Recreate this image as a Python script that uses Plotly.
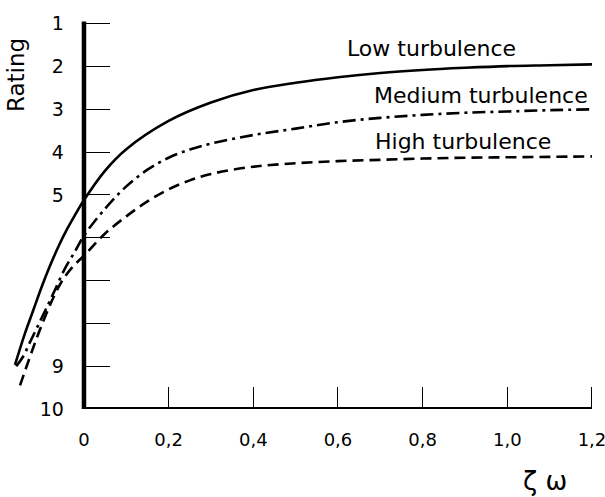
import plotly.graph_objects as go

# ---- data ----
x_low = [-0.163, -0.14, -0.12, -0.10, -0.08, -0.06, -0.04, -0.02, 0.0, 0.05, 0.10, 0.20, 0.30, 0.40, 0.50,
         0.60, 0.70, 0.80, 0.90, 1.00, 1.10, 1.20]
r_low = [8.97, 8.25, 7.70, 7.15, 6.65, 6.20, 5.80, 5.45, 5.12, 4.43, 3.93, 3.27, 2.84, 2.55, 2.38,
         2.25, 2.15, 2.08, 2.03, 1.99, 1.97, 1.95]

x_med = [-0.16, -0.144, -0.128, -0.111, -0.09, -0.07, -0.045, -0.02, 0.0, 0.05, 0.10, 0.15, 0.20, 0.25,
         0.30, 0.40, 0.50, 0.60, 0.70, 0.80, 0.90, 1.00, 1.10, 1.20]
r_med = [9.00, 8.78, 8.45, 8.10, 7.67, 7.25, 6.72, 6.30, 5.95, 5.32, 4.80, 4.41, 4.13, 3.94,
         3.80, 3.60, 3.45, 3.30, 3.20, 3.13, 3.08, 3.05, 3.02, 3.00]

x_high = [-0.151, -0.13, -0.11, -0.09, -0.07, -0.05, -0.025, 0.0, 0.05, 0.10, 0.15, 0.20, 0.25, 0.30,
          0.40, 0.50, 0.60, 0.70, 0.80, 0.90, 1.00, 1.10, 1.20]
r_high = [9.45, 8.85, 8.30, 7.80, 7.35, 6.98, 6.66, 6.42, 5.90, 5.50, 5.15, 4.87, 4.66, 4.51,
          4.34, 4.26, 4.21, 4.18, 4.15, 4.13, 4.12, 4.11, 4.10]

x_ticks = [0.0, 0.2, 0.4, 0.6, 0.8, 1.0, 1.2]
x_tick_text = ["0", "0,2", "0,4", "0,6", "0,8", "1,0", "1,2"]
y_ticks = [1, 2, 3, 4, 5, 6, 7, 8, 9, 10]
y_tick_text = ["1", "2", "3", "4", "5", "", "", "", "9", "10"]

series_names = ["Low turbulence", "Medium turbulence", "High turbulence"]

FONT = "DejaVu Sans"

fig = go.Figure()
fig.add_trace(go.Scatter(x=x_low, y=r_low, mode="lines", name=series_names[0],
                         line=dict(color="black", width=2.6, shape="spline", smoothing=1.0)))
fig.add_trace(go.Scatter(x=x_med, y=r_med, mode="lines", name=series_names[1],
                         line=dict(color="black", width=2.6, shape="spline", smoothing=1.0,
                                   dash="13px,5px,3px,5px")))
fig.add_trace(go.Scatter(x=x_high, y=r_high, mode="lines", name=series_names[2],
                         line=dict(color="black", width=2.6, shape="spline", smoothing=1.0,
                                   dash="11px,6px")))

# thick axis lines starting at x=0 and at rating 10
fig.add_shape(type="line", xref="x", yref="y", x0=0, x1=0, y0=10, y1=0.95,
              line=dict(color="black", width=4.5))
fig.add_shape(type="line", xref="x", yref="y", x0=0, x1=1.2, y0=10, y1=10,
              line=dict(color="black", width=4))

L, R, T, B = 12, 5, 13, 88
W, H = 605, 497
x_min, x_max = -0.17, 1.219
y_pos = (0 - x_min) / (x_max - x_min)

fig.update_layout(
    width=W, height=H,
    margin=dict(l=L, r=R, t=T, b=B, pad=0, autoexpand=False),
    paper_bgcolor="white", plot_bgcolor="white",
    showlegend=False,
    font=dict(family=FONT, color="black"),
    xaxis=dict(range=[x_min, x_max], showgrid=False, zeroline=False, showline=False,
               automargin=False, ticklabeloverflow="allow",
               tickmode="array", tickvals=x_ticks, ticktext=x_tick_text,
               ticks="inside", ticklen=22, tickwidth=1.3, tickcolor="black",
               tickfont=dict(size=18, family=FONT, color="black"),
               ticklabelstandoff=18),
    yaxis=dict(range=[10, 0.75], showgrid=False, zeroline=False, showline=False,
               automargin=False, ticklabeloverflow="allow",
               anchor="free", position=y_pos,
               tickmode="array", tickvals=y_ticks, ticktext=y_tick_text,
               ticks="inside", ticklen=25, tickwidth=1.3, tickcolor="black",
               tickfont=dict(size=19, family=FONT, color="black"),
               ticklabelstandoff=20),
)

annots = [
    dict(text=series_names[0], x=0.822, y=1.58, xref="x", yref="y", font=dict(size=22)),
    dict(text=series_names[1], x=0.938, y=2.68, xref="x", yref="y", font=dict(size=22)),
    dict(text=series_names[2], x=0.895, y=3.76, xref="x", yref="y", font=dict(size=22)),
    dict(text="Rating", x=(16 - L) / (W - L - R), y=(H - B - 75) / (H - T - B),
         xref="paper", yref="paper", textangle=-90, font=dict(size=23)),
    dict(text="ζ ω", x=1.089, y=(H - B - 481) / (H - T - B), xref="x", yref="paper",
         font=dict(size=26)),
]
for a in annots:
    a.update(showarrow=False, xanchor="center", yanchor="middle")
    a["font"].update(family=FONT, color="black")
    fig.add_annotation(**a)

fig.write_html("out.html", config={"displayModeBar": False},
               post_script="document.body.style.margin='0';document.body.style.overflow='hidden';")
